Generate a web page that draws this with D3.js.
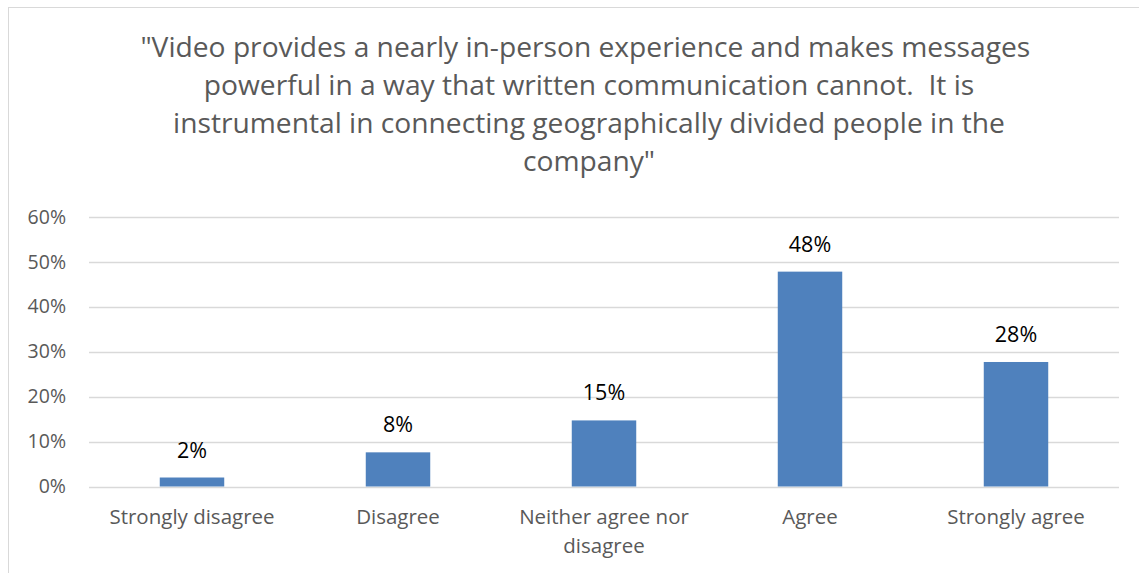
<!DOCTYPE html>
<html>
<head>
<meta charset="utf-8">
<script src="https://cdn.jsdelivr.net/npm/d3@7"></script>
<style>
  html, body { margin: 0; padding: 0; background: #fff; }
  svg { display: block; }
  text { white-space: pre; }
</style>
</head>
<body>
<svg id="chart" width="1139" height="573"></svg>
<script>
const titleLines = [
  "\"Video provides a nearly in-person experience and makes messages ",
  "powerful in a way that written communication cannot.  It is",
  "instrumental in connecting geographically divided people in the",
  "company\""
];
const categories = ["Strongly disagree", "Disagree", "Neither agree nor disagree", "Agree", "Strongly agree"];
const values = [0.020, 0.076, 0.147, 0.478, 0.277];
const yTicks = [0, 0.1, 0.2, 0.3, 0.4, 0.5, 0.6];

const FONT = "'Open Sans', 'Noto Sans', sans-serif";
const svg = d3.select("#chart");
const W = 1139, H = 573;

svg.append("rect").attr("width", W).attr("height", H).attr("fill", "#fff");
svg.append("rect")
  .attr("x", 8.5).attr("y", 7.5).attr("width", W + 10).attr("height", H + 10)
  .attr("fill", "none").attr("stroke", "#d9d9d9").attr("stroke-width", 1);

// Title
const title = svg.append("text")
  .attr("text-anchor", "middle")
  .attr("font-family", FONT)
  .attr("font-size", 28.2)
  .attr("fill", "#595959");
titleLines.forEach((l, i) => {
  title.append("tspan").attr("x", 589).attr("y", 57 + i * 38).text(l);
});

const plot = { left: 89, right: 1119, top: 216.8, bottom: 486.5 };

const x = d3.scaleBand()
  .domain(categories)
  .range([plot.left, plot.right])
  .paddingInner(0.687)
  .paddingOuter(0.3435);

const y = d3.scaleLinear()
  .domain([0, 0.6])
  .range([plot.bottom, plot.top]);

// Gridlines
svg.append("g")
  .selectAll("line")
  .data(yTicks)
  .join("line")
  .attr("x1", plot.left).attr("x2", plot.right)
  .attr("y1", d => Math.round(y(d)) + 0.5)
  .attr("y2", d => Math.round(y(d)) + 0.5)
  .attr("stroke", "#d9d9d9").attr("stroke-width", 1.3);

// Y axis labels
const yAxis = d3.axisLeft(y).tickValues(yTicks).tickFormat(d3.format(".0%")).tickSize(0).tickPadding(23);
const yg = svg.append("g").attr("transform", `translate(${plot.left},0)`).call(yAxis);
yg.select(".domain").remove();
yg.selectAll("text")
  .attr("font-family", FONT).attr("font-size", 19.5).attr("fill", "#595959");

// Bars
svg.append("g")
  .selectAll("rect")
  .data(values)
  .join("rect")
  .attr("x", (d, i) => x(categories[i]))
  .attr("width", x.bandwidth())
  .attr("y", d => y(d))
  .attr("height", d => y(0) - y(d))
  .attr("fill", "#4f81bd");

// Data labels
svg.append("g")
  .selectAll("text")
  .data(values)
  .join("text")
  .attr("x", (d, i) => x(categories[i]) + x.bandwidth() / 2)
  .attr("y", d => y(d) - 20)
  .attr("text-anchor", "middle")
  .attr("font-family", FONT).attr("font-size", 21.5)
  .attr("fill", "#000")
  .text(d => d3.format(".0%")(d));

// X axis labels
const xAxis = d3.axisBottom(x).tickSize(0).tickPadding(23);
const xg = svg.append("g").attr("transform", `translate(0,${plot.bottom})`).call(xAxis);
xg.select(".domain").remove();
xg.selectAll("text")
  .attr("font-family", FONT).attr("font-size", 20.5).attr("fill", "#595959")
  .each(function(d) {
    const t = d3.select(this);
    const maxW = x.step() * 0.92;
    if (this.getComputedTextLength() <= maxW) return;
    const words = d.split(" ");
    const yAttr = t.attr("y");
    t.text(null);
    let line = [];
    let lineNo = 0;
    let tspan = t.append("tspan").attr("x", 0).attr("y", yAttr).attr("dy", "0.71em");
    words.forEach(w => {
      line.push(w);
      tspan.text(line.join(" "));
      if (tspan.node().getComputedTextLength() > maxW && line.length > 1) {
        line.pop();
        tspan.text(line.join(" "));
        line = [w];
        lineNo++;
        tspan = t.append("tspan").attr("x", 0).attr("y", yAttr)
          .attr("dy", (0.71 + lineNo * 1.42) + "em").text(w);
      }
    });
  });
</script>
</body>
</html>
